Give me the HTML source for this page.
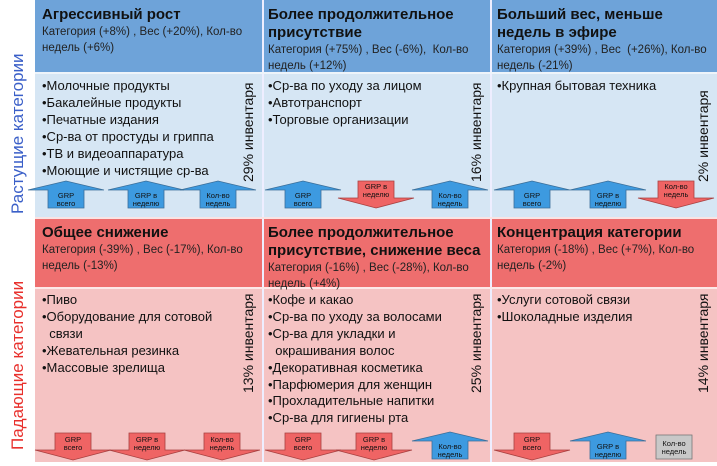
<!DOCTYPE html>
<html><head><meta charset="utf-8"><style>
body{margin:0;width:717px;height:466px;background:#fff;position:relative;overflow:hidden;font-family:"Liberation Sans","DejaVu Sans",sans-serif}
.a{position:absolute}
.hb{background:#6ea3d9}.bb{background:#d6e6f4}.hr{background:#ee6e6e}.br{background:#f5c3c3}
.t{font-weight:bold;font-size:15px;line-height:18px;color:#111}
.s{font-size:11.5px;line-height:16px;color:#222}
.l{font-size:13px;line-height:16.9px;color:#111;white-space:nowrap}
.inv{position:absolute;font-size:14px;color:#111;transform:rotate(-90deg);transform-origin:left top;white-space:nowrap}
.side{position:absolute;font-size:17px;transform:rotate(-90deg);transform-origin:left top;white-space:nowrap}
</style></head><body>
<div class="a hb" style="left:35px;top:0;width:682px;height:72px"></div>
<div class="a bb" style="left:35px;top:72px;width:682px;height:146px"></div>
<div class="a hr" style="left:35px;top:218px;width:682px;height:70px"></div>
<div class="a br" style="left:35px;top:288px;width:682px;height:174px"></div>
<div class="a" style="left:262px;top:0;width:2px;height:462px;background:#eef"></div>
<div class="a" style="left:490px;top:0;width:2px;height:462px;background:#eef"></div>
<div class="a" style="left:35px;top:72px;width:682px;height:2px;background:#eef4fa"></div>
<div class="a" style="left:35px;top:217px;width:682px;height:2px;background:#f8e4e4"></div>
<div class="a" style="left:35px;top:287px;width:682px;height:2px;background:#fde8e8"></div>

<div class="side" style="left:8px;top:214px;color:#3a5fc8">Растущие категории</div>
<div class="side" style="left:8px;top:450px;color:#e8302c">Падающие категории</div>

<div class="a" style="left:42px;top:6px;width:215px"><div class="t">Агрессивный рост</div><div class="s">Категория (+8%) , Вес (+20%), Кол-во недель (+6%)</div></div>
<div class="a" style="left:268px;top:6px;width:220px"><div class="t">Более продолжительное присутствие</div><div class="s">Категория (+75%) , Вес (-6%), &nbsp;Кол-во недель (+12%)</div></div>
<div class="a" style="left:497px;top:6px;width:215px"><div class="t">Больший вес, меньше недель в эфире</div><div class="s">Категория (+39%) , Вес &nbsp;(+26%), Кол-во недель (-21%)</div></div>
<div class="a" style="left:42px;top:224px;width:215px"><div class="t">Общее снижение</div><div class="s">Категория (-39%) , Вес (-17%), Кол-во недель (-13%)</div></div>
<div class="a" style="left:268px;top:224px;width:222px"><div class="t">Более продолжительное присутствие, снижение веса</div><div class="s">Категория (-16%) , Вес (-28%), Кол-во недель (+4%)</div></div>
<div class="a" style="left:497px;top:224px;width:215px"><div class="t">Концентрация категории</div><div class="s">Категория (-18%) , Вес (+7%), Кол-во недель (-2%)</div></div>

<div class="a l" style="left:42px;top:78px">•Молочные продукты<br>•Бакалейные продукты<br>•Печатные издания<br>•Ср-ва от простуды и гриппа<br>•ТВ и видеоаппаратура<br>•Моющие и чистящие ср-ва</div>
<div class="a l" style="left:268px;top:78px">•Ср-ва по уходу за лицом<br>•Автотранспорт<br>•Торговые организации</div>
<div class="a l" style="left:497px;top:78px">•Крупная бытовая техника</div>
<div class="a l" style="left:42px;top:292px">•Пиво<br>•Оборудование для сотовой<br>&nbsp;&nbsp;связи<br>•Жевательная резинка<br>•Массовые зрелища</div>
<div class="a l" style="left:268px;top:292px">•Кофе и какао<br>•Ср-ва по уходу за волосами<br>•Ср-ва для укладки и<br>&nbsp;&nbsp;окрашивания волос<br>•Декоративная косметика<br>•Парфюмерия для женщин<br>•Прохладительные напитки<br>•Ср-ва для гигиены рта</div>
<div class="a l" style="left:497px;top:292px">•Услуги сотовой связи<br>•Шоколадные изделия</div>

<div class="inv" style="left:240px;top:182px">29% инвентаря</div>
<div class="inv" style="left:468px;top:182px">16% инвентаря</div>
<div class="inv" style="left:695px;top:182px">2% инвентаря</div>
<div class="inv" style="left:240px;top:393px">13% инвентаря</div>
<div class="inv" style="left:468px;top:393px">25% инвентаря</div>
<div class="inv" style="left:695px;top:393px">14% инвентаря</div>

<svg class="a" style="left:0;top:0" width="717" height="466" font-family="Liberation Sans, sans-serif" font-size="7.5" text-anchor="middle">
<defs>
<g id="up"><path d="M-38,9 L0,0 L38,9 L18,9 L18,27 L-18,27 L-18,9 Z" stroke="#3b6f9a" stroke-width="0.8"/></g>
<g id="dn"><path d="M-18,0 L18,0 L18,17 L38,17 L0,27 L-38,17 L-18,17 Z" stroke="#a84040" stroke-width="0.8"/></g>
</defs>
<g fill="#3d9ae0"><use href="#up" x="66" y="181"/><use href="#up" x="146" y="181"/><use href="#up" x="218" y="181"/><use href="#up" x="303" y="181"/><use href="#up" x="450" y="181"/><use href="#up" x="532" y="181"/><use href="#up" x="608" y="181"/>
<use href="#up" x="450" y="432"/><use href="#up" x="608" y="432"/></g>
<g fill="#ef6464"><use href="#dn" x="376" y="181"/><use href="#dn" x="676" y="181"/>
<use href="#dn" x="73" y="433"/><use href="#dn" x="147" y="433"/><use href="#dn" x="222" y="433"/><use href="#dn" x="303" y="433"/><use href="#dn" x="374" y="433"/><use href="#dn" x="532" y="433"/></g>
<rect x="656" y="435" width="36" height="24" fill="#c8c8c8" stroke="#777" stroke-width="0.8"/>
<g fill="#111">
<text x="66" y="198">GRP</text><text x="66" y="206">всего</text>
<text x="146" y="198">GRP в</text><text x="146" y="206">неделю</text>
<text x="218" y="198">Кол-во</text><text x="218" y="206">недель</text>
<text x="303" y="198">GRP</text><text x="303" y="206">всего</text>
<text x="376" y="189">GRP в</text><text x="376" y="197">неделю</text>
<text x="450" y="198">Кол-во</text><text x="450" y="206">недель</text>
<text x="532" y="198">GRP</text><text x="532" y="206">всего</text>
<text x="608" y="198">GRP в</text><text x="608" y="206">неделю</text>
<text x="676" y="189">Кол-во</text><text x="676" y="197">недель</text>
<text x="73" y="442">GRP</text><text x="73" y="450">всего</text>
<text x="147" y="442">GRP в</text><text x="147" y="450">неделю</text>
<text x="222" y="442">Кол-во</text><text x="222" y="450">недель</text>
<text x="303" y="442">GRP</text><text x="303" y="450">всего</text>
<text x="374" y="442">GRP в</text><text x="374" y="450">неделю</text>
<text x="450" y="449">Кол-во</text><text x="450" y="457">недель</text>
<text x="532" y="442">GRP</text><text x="532" y="450">всего</text>
<text x="608" y="449">GRP в</text><text x="608" y="457">неделю</text>
<text x="674" y="446">Кол-во</text><text x="674" y="454">недель</text>
</g>
</svg>
</body></html>
